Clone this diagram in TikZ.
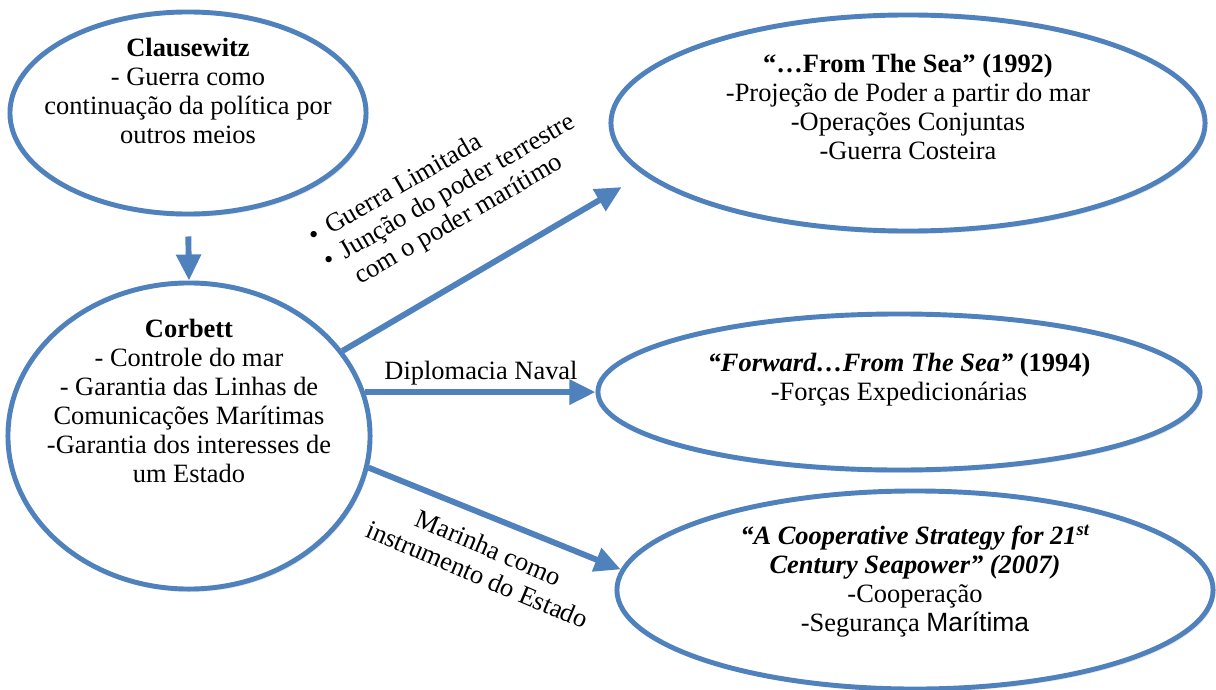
\documentclass[tikz,border=0pt]{standalone}
\usepackage{fontspec}
\setmainfont{Liberation Serif}
\setsansfont{Liberation Sans}
\usepackage{xcolor}
\usetikzlibrary{shapes.geometric,arrows.meta,shadows}

\definecolor{seablue}{HTML}{4F81BD}

\tikzset{
    bubble/.style={ellipse, draw=seablue, line width=3.5pt, fill=white, inner sep=0pt,
        drop shadow={opacity=0.18, shadow xshift=1.5pt, shadow yshift=-2pt}},
    blurb/.style={align=center, inner sep=0pt},
    flow/.style={draw=seablue, line width=4.2pt, -{Triangle[length=0.65cm, width=0.6cm]}}
}

\begin{document}
\begin{tikzpicture}[x=0.025cm, y=-0.025cm, every node/.style={font=\fontsize{18.8}{20.6}\selectfont}]
    \useasboundingbox[fill=white] (0,0) rectangle (1216,690);

    % Bubbles
    \node[bubble, minimum width=8.9cm, minimum height=5.05cm] (claus) at (188,113) {};
    \node[bubble, minimum width=9.05cm, minimum height=7.65cm] (corbett) at (189,436) {};
    \node[bubble, minimum width=14.85cm, minimum height=5.4cm] (fromsea) at (908,123) {};
    \node[bubble, minimum width=15.05cm, minimum height=3.9cm] (forward) at (899,392) {};
    \node[bubble, minimum width=14.9cm, minimum height=4.95cm] (coop) at (915,590) {};

    % Texts of the bubbles
    \node[blurb] (clausetext) at (188,91) {\textbf{Clausewitz}\\- Guerra como\\continuação da política por\\outros meios};
    \node[blurb] (corbetttext) at (189,401) {\textbf{Corbett}\\- Controle do mar\\- Garantia das Linhas de\\Comunicações Marítimas\\-Garantia dos interesses de\\um Estado};
    \node[blurb] (fromseatext) at (908,107) {\textbf{“…From The Sea” (1992)}\\-Projeção de Poder a partir do mar\\-Operações Conjuntas\\-Guerra Costeira};
    \node[blurb] (forwardtext) at (899,380) {\textbf{\textit{“Forward…From The Sea”} (1994)}\\-Forças Expedicionárias};
    \node[blurb] (cooptext) at (915,581) {\textbf{\textit{“A Cooperative Strategy for 21\textsuperscript{st}}}\\\textbf{\textit{Century Seapower” (2007)}}\\-Cooperação\\-Segurança {\sffamily Marítima}};

    % Connectors
    \draw[flow, shorten <=0.5cm] (claus.south) -- (corbett.north);
    \draw[flow, shorten >=0.62cm] (corbett.29) -- (fromsea.191);
    \draw[flow] (corbett.14) -- (corbett.14 -| forward.west);
    \draw[flow] (corbett.-10) -- (coop.176);

    % Labels of the connectors
    \node[inner sep=0pt, rotate=30] (limited) at (450,193) {%
        \begin{tabular}{@{}l@{\hspace{7pt}}l@{}}
            \textbullet & Guerra Limitada\\
            \textbullet & Junção do poder terrestre\\
                        & com o poder marítimo
        \end{tabular}};
    \node[inner sep=0pt, anchor=base] (diplomacy) at (481,379) {Diplomacia Naval};
    \node[blurb, rotate=-23] (navy) at (483,561) {Marinha como\\instrumento do Estado};
\end{tikzpicture}
\end{document}
